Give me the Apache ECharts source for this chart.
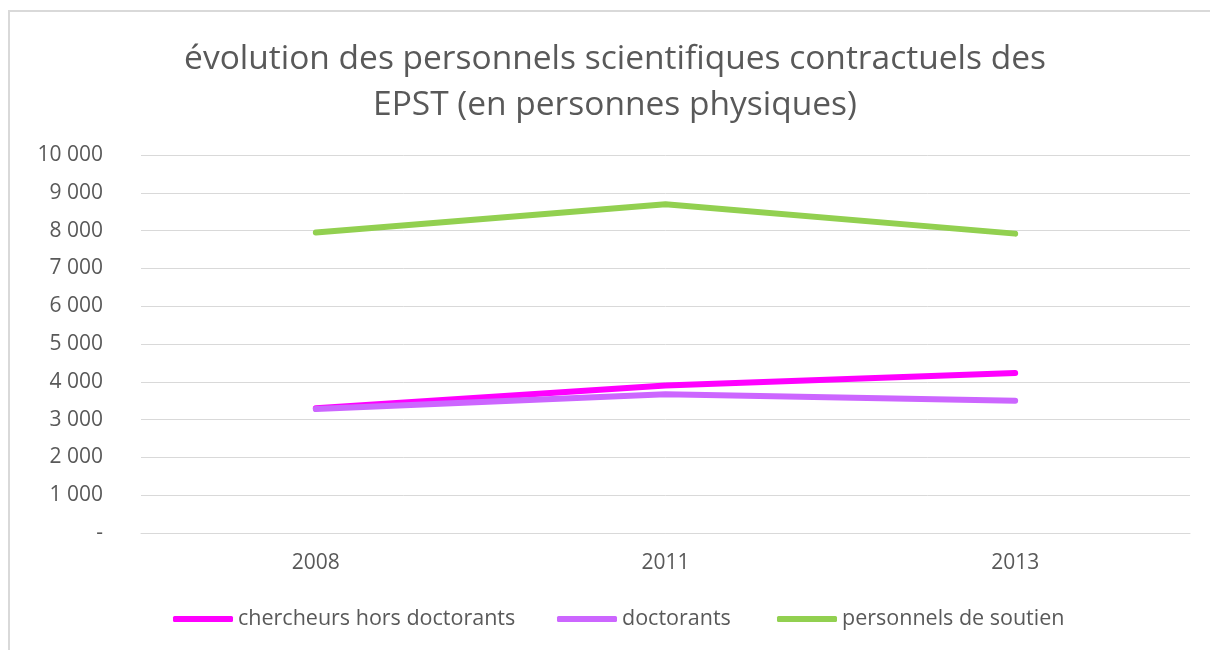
<!DOCTYPE html>
<html>
<head>
<meta charset="utf-8">
<script src="https://cdn.jsdelivr.net/npm/echarts@6/dist/echarts.min.js"></script>
<style>
html,body{margin:0;padding:0;background:#fff;}
#c{width:1210px;height:650px;}
</style>
</head>
<body>
<div id="c"></div>
<script>
const categories = ['2008', '2011', '2013'];
const chercheurs = [3300, 3900, 4230];
const doctorants = [3280, 3670, 3500];
const soutien = [7950, 8700, 7920];
const seriesNames = ['chercheurs hors doctorants', 'doctorants', 'personnels de soutien'];
const colors = ['#FF00FF', '#CC66FF', '#92D050'];

const chart = echarts.init(document.getElementById('c'));
const font = '"Open Sans", Lato, sans-serif';
function fmt(v){
  if (v === 0) return '-';
  return String(v).replace(/\B(?=(\d{3})+(?!\d))/g, ' ');
}
const legendLefts = [173, 557, 777];
chart.setOption({
  backgroundColor: '#fff',
  animation: false,
  title: {
    text: 'évolution des personnels scientifiques contractuels des\nEPST (en personnes physiques)',
    left: 615,
    textAlign: 'center',
    top: 36,
    padding: 0,
    textStyle: {fontFamily: font, fontSize: 33.5, fontWeight: 'normal', color: '#595959', lineHeight: 46}
  },
  legend: seriesNames.map((n, i) => ({
    data: [n],
    left: legendLefts[i],
    top: 608,
    padding: 0,
    icon: 'roundRect',
    itemWidth: 60,
    itemHeight: 6,
    itemGap: 0,
    textStyle: {fontFamily: font, fontSize: 21.5, color: '#595959', padding: [0, 0, 0, 0]}
  })),
  grid: {left: 141, right: 20, top: 155, bottom: 117},
  xAxis: {
    type: 'category',
    data: categories,
    boundaryGap: true,
    axisLine: {lineStyle: {color: '#d9d9d9', width: 1}},
    axisTick: {show: false},
    axisLabel: {fontFamily: font, fontSize: 21, color: '#595959', margin: 20}
  },
  yAxis: {
    type: 'value',
    min: 0, max: 10000, interval: 1000,
    axisLine: {show: false},
    axisTick: {show: false},
    splitLine: {lineStyle: {color: '#d9d9d9', width: 1}},
    axisLabel: {fontFamily: font, fontSize: 21, color: '#595959', margin: 38, formatter: fmt}
  },
  graphic: [
    {type: 'line', shape: {x1: 8, y1: 11, x2: 1210, y2: 11}, style: {stroke: '#d9d9d9', lineWidth: 2}, silent: true},
    {type: 'line', shape: {x1: 9, y1: 10, x2: 9, y2: 650}, style: {stroke: '#d9d9d9', lineWidth: 2}, silent: true}
  ],
  series: [
    {name: seriesNames[0], type: 'line', data: chercheurs, color: colors[0], symbol: 'none', lineStyle: {width: 6, cap: 'round', join: 'round'}},
    {name: seriesNames[1], type: 'line', data: doctorants, color: colors[1], symbol: 'none', lineStyle: {width: 6, cap: 'round', join: 'round'}},
    {name: seriesNames[2], type: 'line', data: soutien, color: colors[2], symbol: 'none', lineStyle: {width: 6, cap: 'round', join: 'round'}}
  ]
});
</script>
</body>
</html>
